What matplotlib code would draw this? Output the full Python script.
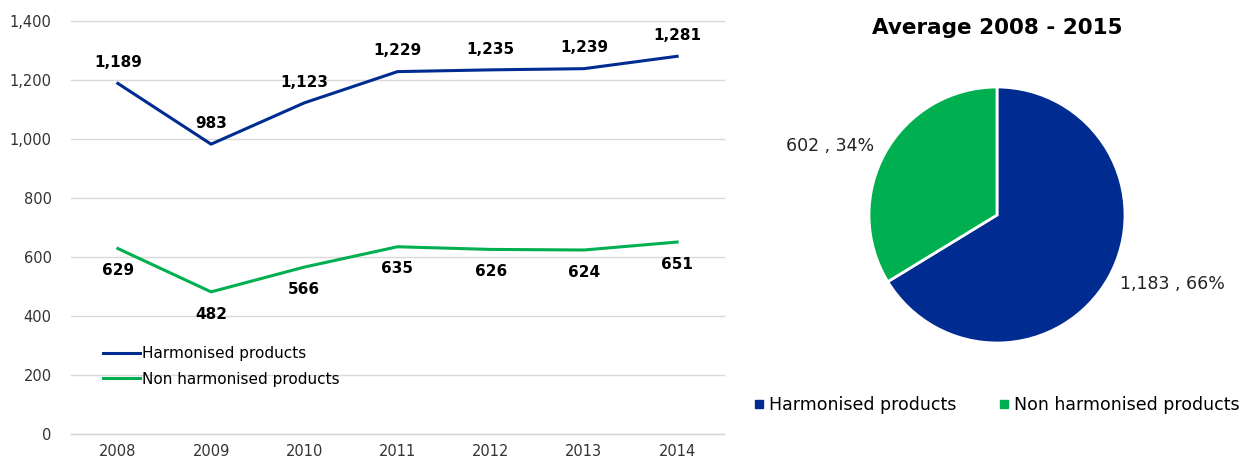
import matplotlib.pyplot as plt
from matplotlib.lines import Line2D
from matplotlib.ticker import FuncFormatter

# --- data ---
years = ["2008", "2009", "2010", "2011", "2012", "2013", "2014"]
harmonised = [1189, 983, 1123, 1229, 1235, 1239, 1281]
non_harmonised = [629, 482, 566, 635, 626, 624, 651]

pie_labels = ["Harmonised products", "Non harmonised products"]
pie_values = [1183, 602]
pie_pcts = [66, 34]

BLUE = "#002B91"
GREEN = "#00B050"
GRID = "#D9D9D9"

plt.rcParams["font.family"] = "DejaVu Sans"

fig = plt.figure(figsize=(12.5, 4.61), dpi=100)

# --- line chart ---
ax = fig.add_axes([0.057, 0.0586, 0.522, 0.8954])
x = range(len(years))
ax.plot(x, harmonised, color=BLUE, lw=2.2, label="Harmonised products")
ax.plot(x, non_harmonised, color=GREEN, lw=2.2, label="Non harmonised products")

for i, v in enumerate(harmonised):
    ax.annotate(f"{v:,}", (i, v), xytext=(0, 15), textcoords="offset points",
                ha="center", va="center", fontsize=11, fontweight="bold")
for i, v in enumerate(non_harmonised):
    ax.annotate(f"{v:,}", (i, v), xytext=(0, -16), textcoords="offset points",
                ha="center", va="center", fontsize=11, fontweight="bold")

ax.set_xlim(-0.5, len(years) - 0.5)
ax.set_ylim(0, 1400)
ax.set_yticks(range(0, 1401, 200))
ax.yaxis.set_major_formatter(FuncFormatter(lambda v, p: f"{int(v):,}"))
ax.set_xticks(list(x))
ax.set_xticklabels(years)
ax.tick_params(length=0, labelsize=10.5, colors="#333333", pad=7)
ax.tick_params(axis="y", pad=14)
ax.grid(axis="y", color=GRID, lw=1, clip_on=False)
ax.axhline(0, color=GRID, lw=1, clip_on=False, zorder=0)
ax.set_axisbelow(True)
for s in ax.spines.values():
    s.set_visible(False)

ax.legend(loc="lower left", bbox_to_anchor=(0.04, 0.1), frameon=False,
          fontsize=11, handlelength=2.4, handletextpad=0.1, labelspacing=0.7,
          borderaxespad=0)

# --- pie chart ---
pax = fig.add_axes([837 / 1250, 86 / 461, 320 / 1250, 320 / 461])
texts = [f"{v:,} , {p}%" for v, p in zip(pie_values, pie_pcts)]
pax.pie(pie_values, colors=[BLUE, GREEN], startangle=90, counterclock=False,
        labels=texts, labeldistance=1.1,
        wedgeprops=dict(edgecolor="white", linewidth=2),
        textprops=dict(fontsize=12.5, color="#222222"))
pax.set_xlim(-1.25, 1.25)
pax.set_ylim(-1.25, 1.25)
pax.set_aspect("equal")

fig.text(997 / 1250, 1 - 28 / 461, "Average 2008 - 2015", ha="center", va="center",
         fontsize=15.5, fontweight="bold")

handles = [Line2D([], [], marker="s", ls="", color=c, markersize=6) for c in (BLUE, GREEN)]
fig.legend(handles, pie_labels, loc="center", bbox_to_anchor=(995 / 1250, 1 - 405 / 461),
           ncol=2, frameon=False, fontsize=12.5, handletextpad=0.1, columnspacing=2.2,
           handlelength=1.0)

fig.savefig("out.png", dpi=100)
